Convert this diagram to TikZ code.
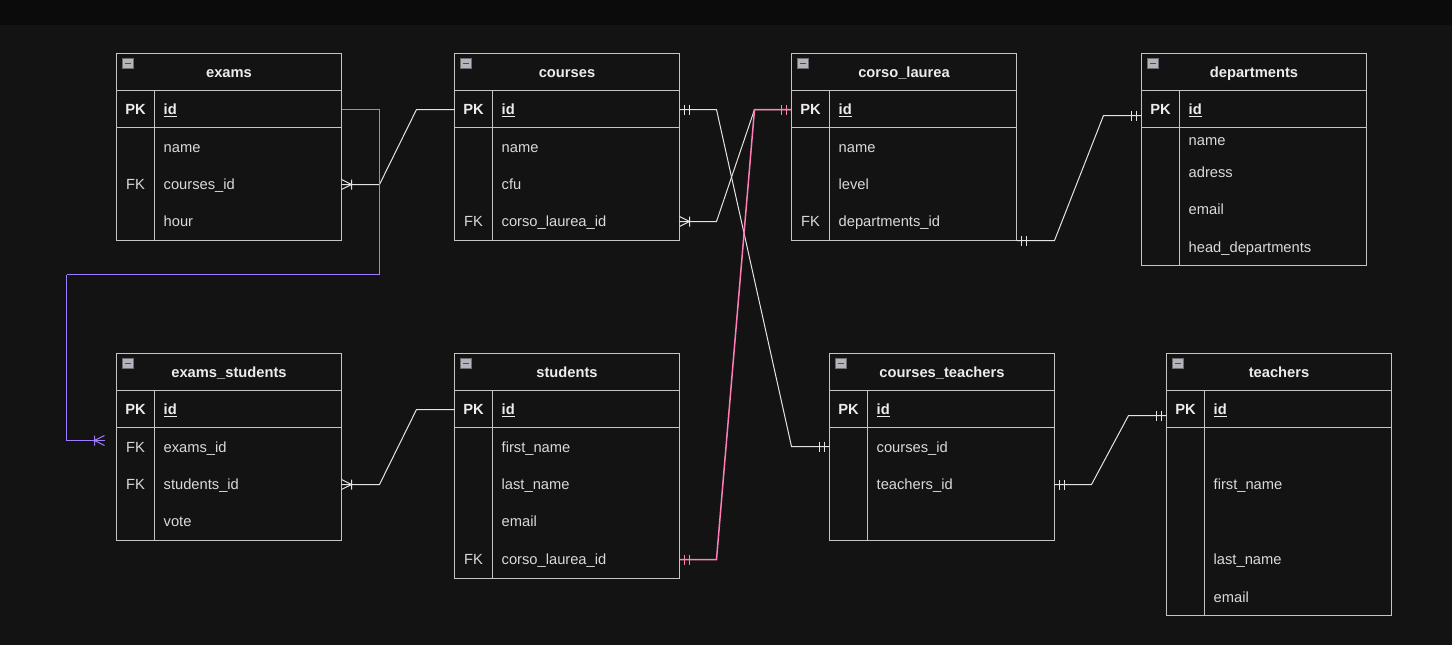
\documentclass[tikz,border=0pt]{standalone}
\usepackage{fontspec}
\setmainfont{Liberation Sans}
\definecolor{bgmain}{HTML}{131313}
\definecolor{bgtop}{HTML}{0B0B0B}
\definecolor{frame}{HTML}{C4C4C4}
\definecolor{wire}{HTML}{E4E4E4}
\definecolor{txt}{HTML}{DADADA}
\definecolor{hdr}{HTML}{ECECEC}
\definecolor{violetwire}{HTML}{A07CFF}
\definecolor{pinkwire}{HTML}{FF7EB6}
\definecolor{icongray}{HTML}{B4B4BC}

\tikzset{
  tablebox/.style={draw=frame, fill=bgmain, line width=1pt, minimum width=225pt,
    inner sep=0pt, outer sep=0pt, rectangle},
  grid/.style={draw=frame, line width=1pt},
  ttl/.style={text=hdr, font=\fontsize{14.7}{17}\selectfont\bfseries, inner sep=0pt, anchor=base},
  keytxt/.style={text=txt, font=\fontsize{14.7}{17}\selectfont, inner sep=0pt, anchor=base},
  pktxt/.style={keytxt, text=hdr, font=\fontsize{14.7}{17}\selectfont\bfseries},
  field/.style={text=txt, font=\fontsize{14.7}{17}\selectfont, inner sep=0pt, anchor=base west},
  pkfield/.style={field, text=hdr, font=\fontsize{14.7}{17}\selectfont\bfseries},
  conn/.style={draw=wire, line width=1pt},
  violetconn/.style={draw=violetwire, line width=1.5pt},
  pinkconn/.style={draw=pinkwire, line width=1.5pt},
  crowfoot/.pic={\draw[line width=1pt] (0,-5) -- (10,0) -- (0,5) (10,-5) -- (10,5);},
  mandone/.pic={\draw[line width=1pt] (5,-5) -- (5,5) (10,-5) -- (10,5);}
}

% one entity table: name, left x, top y, height, title
\newcommand\erTable[5]{%
  \node[tablebox, minimum height=#4pt, anchor=north west] (#1) at (#2,#3) {};
  \draw[grid] (#2,#3+37) -- ++(225,0) (#2,#3+74) -- ++(225,0) (#2+38,#3+37) -- (#2+38,#3+#4);
  \node[ttl] (#1-title) at (#2+112.5,#3+24) {#5};
  \draw[fill=icongray, draw=icongray!60!black, line width=0.6pt] (#2+6,#3+5) rectangle ++(11,10);
  \draw[draw=black!70, line width=1.4pt] (#2+8.5,#3+10) -- ++(6,0);
  \node[pktxt] (#1-pk) at (#2+19,#3+61) {PK};
  \node[pkfield] (#1-id) at (#2+47,#3+61) {\underline{id}};
}
% a plain row: node name, table left x, row centre y, key label, field text
\newcommand\erRow[5]{%
  \node[keytxt] (#1-key) at (#2+19,#3+5) {#4};
  \node[field] (#1) at (#2+47,#3+5) {#5};
}

\begin{document}
\begin{tikzpicture}[x=1pt, y=-1pt]
\useasboundingbox (0,0) rectangle (1452,645);
\fill[bgmain] (0,0) rectangle (1452,645);
\fill[bgtop] (0,0) rectangle (1452,25);

% half-pixel offset keeps the 1pt strokes crisp
\begin{scope}[shift={(0.5,0.5)}]
% ---------- tables ----------
\erTable{exams}{116}{53}{187}{exams}
\erRow{exams-name}{116}{147}{}{name}
\erRow{exams-cid}{116}{184}{FK}{courses\_id}
\erRow{exams-hour}{116}{221}{}{hour}

\erTable{courses}{454}{53}{187}{courses}
\erRow{courses-name}{454}{147}{}{name}
\erRow{courses-cfu}{454}{184}{}{cfu}
\erRow{courses-clid}{454}{221}{FK}{corso\_laurea\_id}

\erTable{corso}{791}{53}{187}{corso\_laurea}
\erRow{corso-name}{791}{147}{}{name}
\erRow{corso-level}{791}{184}{}{level}
\erRow{corso-did}{791}{221}{FK}{departments\_id}

\erTable{dept}{1141}{53}{212}{departments}
\erRow{dept-name}{1141}{140}{}{name}
\erRow{dept-adress}{1141}{172}{}{adress}
\erRow{dept-email}{1141}{209}{}{email}
\erRow{dept-head}{1141}{247}{}{head\_departments}

\erTable{exst}{116}{353}{187}{exams\_students}
\erRow{exst-eid}{116}{447}{FK}{exams\_id}
\erRow{exst-sid}{116}{484}{FK}{students\_id}
\erRow{exst-vote}{116}{521}{}{vote}

\erTable{stud}{454}{353}{225}{students}
\erRow{stud-fn}{454}{447}{}{first\_name}
\erRow{stud-ln}{454}{484}{}{last\_name}
\erRow{stud-email}{454}{521}{}{email}
\erRow{stud-clid}{454}{559}{FK}{corso\_laurea\_id}

\erTable{ct}{829}{353}{187}{courses\_teachers}
\erRow{ct-cid}{829}{447}{}{courses\_id}
\erRow{ct-tid}{829}{484}{}{teachers\_id}

\erTable{teach}{1166}{353}{262}{teachers}
\erRow{teach-fn}{1166}{484}{}{first\_name}
\erRow{teach-ln}{1166}{559}{}{last\_name}
\erRow{teach-email}{1166}{597}{}{email}

% ---------- attachment points on the table edges ----------
\coordinate (p-exams-cid) at (341,184);
\coordinate (p-exams-id) at (341,109);
\coordinate (p-courses-idL) at (454,109);
\coordinate (p-courses-idR) at (679,109);
\coordinate (p-courses-clid) at (679,221);
\coordinate (p-corso-id) at (791,109);
\coordinate (p-corso-did) at (1016,240);
\coordinate (p-dept-id) at (1141,115);
\coordinate (p-exst-eid) at (104,440);
\coordinate (p-exst-sid) at (341,484);
\coordinate (p-stud-id) at (454,409);
\coordinate (p-stud-clid) at (679,559);
\coordinate (p-ct-cid) at (829,446);
\coordinate (p-ct-tid) at (1054,484);
\coordinate (p-teach-id) at (1166,415);

% ---------- relationships ----------
% exams.courses_id -> courses.id
\draw[conn] (p-exams-cid) -- (379,184) -- (416,109) -- (p-courses-idL);
\pic[wire] at (p-exams-cid) {crowfoot};

% courses.id -> courses_teachers.courses_id
\draw[conn] (p-courses-idR) -- (716,109) -- (791,446) -- (p-ct-cid);
\pic[wire] at (p-courses-idR) {mandone};
\pic[wire, xscale=-1] at (p-ct-cid) {mandone};

% courses.corso_laurea_id -> corso_laurea.id
\draw[conn] (p-courses-clid) -- (716,221) -- (754,109) -- (p-corso-id);
\pic[wire] at (p-courses-clid) {crowfoot};

% corso_laurea.departments_id -> departments.id
\draw[conn] (p-corso-did) -- (1054,240) -- (1103,115) -- (p-dept-id);
\pic[wire] at (p-corso-did) {mandone};
\pic[wire, xscale=-1] at (p-dept-id) {mandone};

% exams_students.students_id -> students.id
\draw[conn] (p-exst-sid) -- (379,484) -- (416,409) -- (p-stud-id);
\pic[wire] at (p-exst-sid) {crowfoot};

% courses_teachers.teachers_id -> teachers.id
\draw[conn] (p-ct-tid) -- (1091,484) -- (1128,415) -- (p-teach-id);
\pic[wire] at (p-ct-tid) {mandone};
\pic[wire, xscale=-1] at (p-teach-id) {mandone};

% students.corso_laurea_id -> corso_laurea.id (highlighted in pink)
\draw[pinkconn] (p-stud-clid) -- (716,559) -- (754,109) -- (p-corso-id);
\pic[pinkwire] at (p-stud-clid) {mandone};
\pic[pinkwire, xscale=-1] at (p-corso-id) {mandone};
\pic[violetwire, xscale=-1] at (p-exst-eid) {crowfoot};
\end{scope}

% exams.id -> exams_students.exams_id (highlighted in violet), one segment per leg
\coordinate (v1) at (379.5,109.5);
\coordinate (v2) at (379.5,274.5);
\coordinate (v3) at (66.5,274.5);
\coordinate (v4) at (66.5,440.5);
\draw[violetconn] (p-exams-id) -- (v1);
\draw[violetconn] (v1) -- (v2);
\draw[violetconn] (v2) -- (v3);
\draw[violetconn] (v3) -- (v4);
\draw[violetconn] (v4) -- (p-exst-eid);
\end{tikzpicture}
\end{document}
